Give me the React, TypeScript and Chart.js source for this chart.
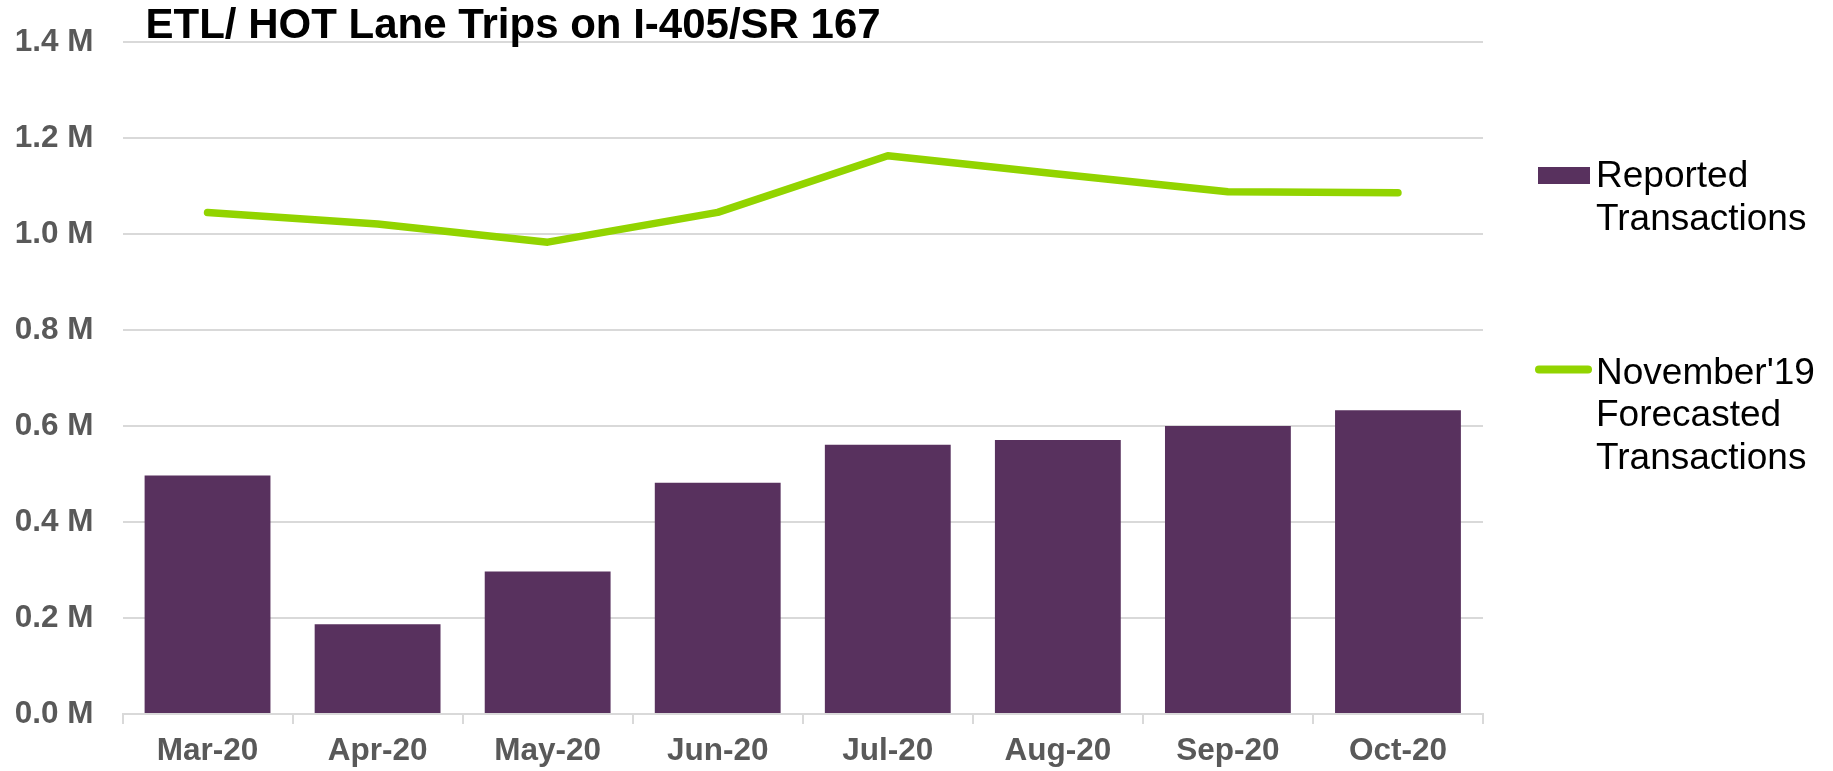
import React, { useEffect, useRef } from "react";
import { Chart, registerables } from "chart.js";

Chart.register(...registerables);

const months = ["Mar-20", "Apr-20", "May-20", "Jun-20", "Jul-20", "Aug-20", "Sep-20", "Oct-20"];
const reported = [0.497, 0.187, 0.297, 0.482, 0.561, 0.571, 0.6, 0.633];
const forecast = [1.045, 1.021, 0.983, 1.045, 1.163, 1.125, 1.088, 1.086];
const yMin = 0;
const yMax = 1.4;
const yStep = 0.2;
const titleText = "ETL/ HOT Lane Trips on I-405/SR 167";
const reportedLabel = ["Reported", "Transactions"];
const forecastLabel = ["November'19", "Forecasted", "Transactions"];

const BAR_COLOR = "#58315E";
const LINE_COLOR = "#92D400";
const GRID_COLOR = "#D9D9D9";
const TICK_COLOR = "#595959";
const FONT = "'Liberation Sans', Arial, Helvetica, sans-serif";

const overlayPlugin = {
  id: "overlay",
  afterDraw(chart: any) {
    const { ctx, chartArea } = chart;
    ctx.save();
    // title
    ctx.fillStyle = "#000000";
    ctx.font = `bold 42px ${FONT}`;
    ctx.textAlign = "left";
    ctx.textBaseline = "alphabetic";
    ctx.fillText(titleText, chartArea.left + 23, 38);

    // legend
    const lx = chartArea.right;
    ctx.fillStyle = BAR_COLOR;
    ctx.fillRect(lx + 55, 167, 52, 17);
    ctx.strokeStyle = LINE_COLOR;
    ctx.lineWidth = 8;
    ctx.lineCap = "round";
    ctx.beginPath();
    ctx.moveTo(lx + 56, 369.5);
    ctx.lineTo(lx + 105, 369.5);
    ctx.stroke();

    ctx.fillStyle = "#000000";
    ctx.font = `37px ${FONT}`;
    reportedLabel.forEach((t, i) => ctx.fillText(t, lx + 113, 187 + i * 42.5));
    forecastLabel.forEach((t, i) => ctx.fillText(t, lx + 113, 383.5 + i * 42.5));
    ctx.restore();
  },
};

export default function App() {
  const canvasRef = useRef<HTMLCanvasElement | null>(null);

  useEffect(() => {
    const canvas = canvasRef.current;
    if (!canvas) return;
    const chart = new Chart(canvas, {
      type: "bar",
      data: {
        labels: months,
        datasets: [
          {
            type: "line",
            label: forecastLabel.join(" "),
            data: forecast,
            borderColor: LINE_COLOR,
            backgroundColor: LINE_COLOR,
            borderWidth: 7.5,
            borderCapStyle: "round",
            borderJoinStyle: "round",
            pointRadius: 0,
            tension: 0,
            order: 0,
          } as any,
          {
            type: "bar",
            label: reportedLabel.join(" "),
            data: reported,
            backgroundColor: BAR_COLOR,
            borderWidth: 0,
            categoryPercentage: 1,
            barPercentage: 0.74,
            order: 1,
          } as any,
        ],
      },
      options: {
        responsive: false,
        animation: false,
        devicePixelRatio: 1,
        layout: { padding: { left: 0, right: 350, top: 42, bottom: 0 } },
        plugins: {
          legend: { display: false },
          title: { display: false },
          tooltip: { enabled: false },
        },
        scales: {
          x: {
            offset: true,
            grid: {
              offset: true,
              drawOnChartArea: false,
              drawTicks: true,
              tickLength: 10,
              color: GRID_COLOR,
              lineWidth: 2,
            },
            border: { display: true, color: GRID_COLOR, width: 2 },
            ticks: {
              color: TICK_COLOR,
              font: { family: FONT, size: 31.5, weight: "bold" },
              padding: 8,
              maxRotation: 0,
              autoSkip: false,
            },
            afterFit: (scale: any) => {
              scale.height = 57;
            },
          },
          y: {
            min: yMin,
            max: yMax,
            grid: {
              color: GRID_COLOR,
              lineWidth: 2,
              drawTicks: false,
            },
            border: { display: false },
            ticks: {
              stepSize: yStep,
              color: TICK_COLOR,
              font: { family: FONT, size: 31.5, weight: "bold" },
              padding: 29,
              callback: (v: any) => `${Number(v).toFixed(1)} M`,
            },
            afterFit: (scale: any) => {
              scale.width = 122.5;
              scale.paddingTop = 19;
              scale.paddingBottom = 19;
            },
          },
        },
      },
      plugins: [overlayPlugin],
    });
    return () => chart.destroy();
  }, []);

  return (
    <div style={{ position: "fixed", left: 0, top: 0, width: 1833, height: 771, background: "#ffffff" }}>
      <canvas ref={canvasRef} width={1833} height={771} style={{ display: "block", width: 1833, height: 771 }} />
    </div>
  );
}
